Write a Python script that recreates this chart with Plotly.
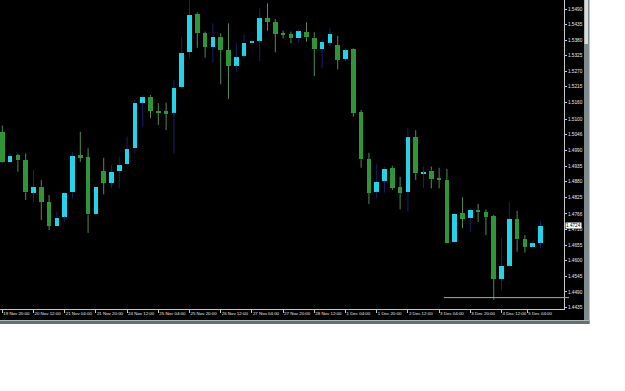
import plotly.graph_objects as go

# ---- data (EURUSD-like H4 candles) ----
opens = [1.5054, 1.4948, 1.4974, 1.4956, 1.4841, 1.4862, 1.4807, 1.4723, 1.4756, 1.4842,
         1.4973, 1.4966, 1.4766, 1.4917, 1.4876, 1.4916, 1.4942, 1.4998, 1.5159, 1.5180,
         1.5130, 1.5128, 1.5124, 1.5215, 1.5337, 1.5472, 1.5404, 1.5357, 1.5392, 1.5345,
         1.5290, 1.5325, 1.5371, 1.5378, 1.5457, 1.5444, 1.5404, 1.5402, 1.5386, 1.5408,
         1.5389, 1.5348, 1.5371, 1.5362, 1.5312, 1.5348, 1.5125, 1.4959, 1.4844, 1.4883,
         1.4929, 1.4860, 1.4843, 1.5037, 1.4909, 1.4919, 1.4892, 1.4886, 1.4666, 1.4768,
         1.4752, 1.4780, 1.4772, 1.4758, 1.4536, 1.4583, 1.4748, 1.4677, 1.4650, 1.4664]
highs = [1.5078, 1.4980, 1.4978, 1.4980, 1.4921, 1.4886, 1.4833, 1.4774, 1.4843, 1.4986,
         1.5056, 1.4998, 1.4864, 1.4964, 1.4939, 1.4968, 1.5039, 1.5168, 1.5186, 1.5186,
         1.5157, 1.5159, 1.5239, 1.5392, 1.5521, 1.5478, 1.5410, 1.5439, 1.5404, 1.5439,
         1.5369, 1.5398, 1.5375, 1.5492, 1.5510, 1.5455, 1.5413, 1.5410, 1.5418, 1.5443,
         1.5408, 1.5380, 1.5422, 1.5395, 1.5351, 1.5351, 1.5133, 1.4982, 1.4942, 1.4933,
         1.4936, 1.4897, 1.5068, 1.5062, 1.4932, 1.4933, 1.4929, 1.4924, 1.4769, 1.4825,
         1.4786, 1.4801, 1.4782, 1.4762, 1.4680, 1.4809, 1.4777, 1.4691, 1.4670, 1.4738]
lows = [1.4946, 1.4946, 1.4915, 1.4815, 1.4809, 1.4744, 1.4709, 1.4721, 1.4738, 1.4821,
        1.4950, 1.4699, 1.4762, 1.4835, 1.4856, 1.4856, 1.4939, 1.4980, 1.5074, 1.5104,
        1.5080, 1.5062, 1.4980, 1.5210, 1.5316, 1.5353, 1.5318, 1.5300, 1.5224, 1.5172,
        1.5268, 1.5316, 1.5370, 1.5306, 1.5413, 1.5337, 1.5386, 1.5369, 1.5369, 1.5374,
        1.5253, 1.5280, 1.5357, 1.5277, 1.5304, 1.5109, 1.4929, 1.4801, 1.4821, 1.4841,
        1.4850, 1.4782, 1.4774, 1.4886, 1.4857, 1.4856, 1.4856, 1.4661, 1.4663, 1.4715,
        1.4703, 1.4738, 1.4691, 1.4462, 1.4497, 1.4579, 1.4632, 1.4629, 1.4648, 1.4644]
closes = [1.4948, 1.4972, 1.4955, 1.4842, 1.4862, 1.4809, 1.4723, 1.4752, 1.4839, 1.4970,
          1.4966, 1.4764, 1.4862, 1.4876, 1.4915, 1.4940, 1.4995, 1.5159, 1.5178, 1.5130,
          1.5125, 1.5121, 1.5211, 1.5336, 1.5469, 1.5406, 1.5357, 1.5392, 1.5345, 1.5290,
          1.5319, 1.5371, 1.5373, 1.5457, 1.5445, 1.5403, 1.5403, 1.5386, 1.5411, 1.5390,
          1.5348, 1.5373, 1.5401, 1.5310, 1.5344, 1.5124, 1.4959, 1.4841, 1.4879, 1.4926,
          1.4858, 1.4841, 1.5037, 1.4909, 1.4910, 1.4888, 1.4886, 1.4662, 1.4766, 1.4748,
          1.4780, 1.4772, 1.4756, 1.4536, 1.4583, 1.4748, 1.4676, 1.4650, 1.4662, 1.4724]

x_tick_bars = [0, 4, 8, 12, 16, 20, 24, 28, 32, 36, 40, 44, 48, 52, 56, 60, 64, 67.3]
x_tick_labels = ["19 Nov 20:00", "20 Nov 12:00", "21 Nov 04:00", "21 Nov 20:00",
                 "24 Nov 12:00", "25 Nov 04:00", "25 Nov 20:00", "26 Nov 12:00",
                 "27 Nov 04:00", "27 Nov 20:00", "28 Nov 12:00", "1 Dec 04:00",
                 "1 Dec 20:00", "2 Dec 12:00", "3 Dec 04:00", "3 Dec 20:00",
                 "4 Dec 12:00", "5 Dec 04:00"]
y_tick_labels = ["1.5490", "1.5435", "1.5380", "1.5325", "1.5270", "1.5215", "1.5160",
                 "1.5100", "1.5046", "1.4990", "1.4935", "1.4880", "1.4825", "1.4766",
                 "1.4710", "1.4655", "1.4600", "1.4545", "1.4490", "1.4435"]
hline_level = 1.4470

# ---- styles ----
BULL_BODY = "#22D3EA"
BEAR_BODY = "#2F9638"
BULL_WICK = "#16206e"
BEAR_WICK = "#4f8a5a"
AXIS_COL = "#c8c8c8"
TXT_COL = "#e8e8e8"
FONT = "Liberation Sans"
FS = 4.7
FSX = 4.4
MIN_BODY = 0.0004

W, H = 625, 391
PW, PH = 564, 309

n = len(opens)
fig = go.Figure()
for is_up, wick_col, body_col in [(True, BULL_WICK, BULL_BODY), (False, BEAR_WICK, BEAR_BODY)]:
    wx, wy, bx, bbase, bh = [], [], [], [], []
    for i in range(n):
        o, h, l, c = opens[i], highs[i], lows[i], closes[i]
        if (c >= o) != is_up:
            continue
        lo, hi = min(o, c), max(o, c)
        wx += [i, i, None, i, i, None]
        wy += [h, hi, None, lo, l, None]
        hgt = max(hi - lo, MIN_BODY)
        mid = (lo + hi) / 2
        bx.append(i)
        bbase.append(mid - hgt / 2)
        bh.append(hgt)
    fig.add_trace(go.Scatter(x=wx, y=wy, mode="lines", line=dict(color=wick_col, width=1),
                             hoverinfo="skip", showlegend=False))
    fig.add_trace(go.Bar(x=bx, y=bh, base=bbase, width=0.6,
                         marker=dict(color=body_col, line=dict(width=0)),
                         hoverinfo="skip", showlegend=False))


def pxx(p):
    return p / PW


def pxy(p):
    return 1 - p / PH


shapes = [
    dict(type="rect", xref="paper", yref="paper", x0=0, x1=pxx(584), y0=pxy(320), y1=1,
         fillcolor="black", line_width=0, layer="below"),
    # right scrollbar strip
    dict(type="rect", xref="paper", yref="paper", x0=pxx(584), x1=pxx(589.5), y0=pxy(324), y1=1,
         fillcolor="#7e8a8e", line_width=0, layer="below"),
    dict(type="rect", xref="paper", yref="paper", x0=pxx(584.5), x1=pxx(588), y0=pxy(44), y1=1,
         fillcolor="#dcdcdc", line_width=0, layer="below"),
    # bottom border
    dict(type="rect", xref="paper", yref="paper", x0=0, x1=pxx(589.5), y0=pxy(324), y1=pxy(320),
         fillcolor="#5f7479", line_width=0, layer="below"),
    dict(type="rect", xref="paper", yref="paper", x0=0, x1=pxx(589.5), y0=pxy(321), y1=pxy(320),
         fillcolor="#b4b4b4", line_width=0, layer="below"),
    # horizontal level line
    dict(type="line", xref="paper", yref="y", x0=pxx(444), x1=pxx(569),
         y0=hline_level, y1=hline_level, line=dict(color="#a8a8a8", width=1)),
]

fig.update_layout(
    width=W, height=H,
    margin=dict(l=0, r=W - PW, t=0, b=H - PH, pad=0),
    paper_bgcolor="white", plot_bgcolor="black",
    showlegend=False, barmode="overlay", bargap=0,
    shapes=shapes,
    annotations=[dict(xref="paper", yref="y", x=1, y=closes[-1], xanchor="left", yanchor="middle",
                      xshift=1, text=f"{closes[-1]:.4f}", showarrow=False,
                      font=dict(family=FONT, size=FS, color="black"),
                      bgcolor="white", borderpad=0)],
)
fig.update_xaxes(range=[-0.295, 72.01], tickmode="array", tickvals=x_tick_bars, ticktext=x_tick_labels,
                 ticks="outside", ticklen=3, tickcolor=AXIS_COL, tickwidth=1, tickangle=0,
                 tickfont=dict(family=FONT, size=FSX, color=TXT_COL),
                 ticklabelposition="outside right",
                 showline=True, linecolor=AXIS_COL, linewidth=1,
                 showgrid=False, zeroline=False, fixedrange=True, automargin=False)
fig.update_yaxes(range=[1.44298, 1.55218], side="right", tickmode="array",
                 tickvals=[float(t) for t in y_tick_labels], ticktext=y_tick_labels,
                 ticks="outside", ticklen=2, tickcolor=AXIS_COL, tickwidth=1,
                 tickfont=dict(family=FONT, size=FS, color=TXT_COL),
                 showline=True, linecolor=AXIS_COL, linewidth=1,
                 showgrid=False, zeroline=False, fixedrange=True, automargin=False)

fig.write_html("out.html", config={"displayModeBar": False})
